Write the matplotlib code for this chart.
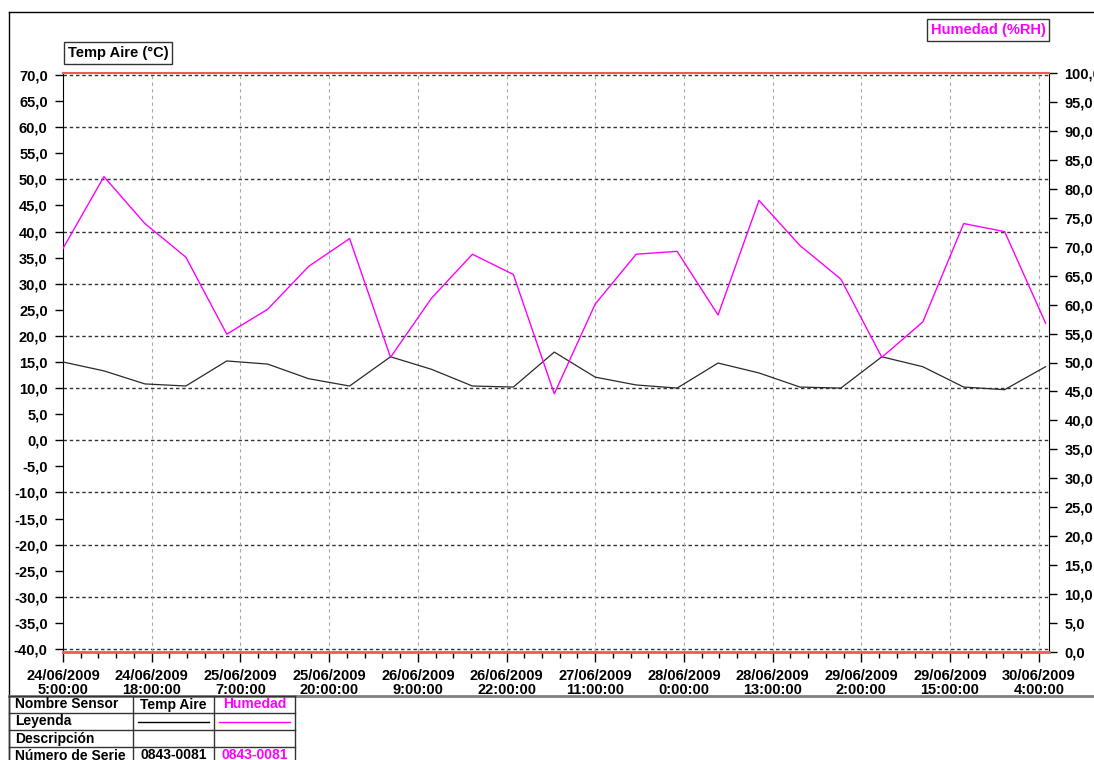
import numpy as np
import pandas as pd
import matplotlib
matplotlib.use("Agg")
import matplotlib.pyplot as plt
import matplotlib.dates as mdates
from matplotlib.ticker import MultipleLocator, FuncFormatter, FixedLocator
from matplotlib.lines import Line2D

# readings every 6 h, from 24/06/2009 5:00
temp_aire = [15.0, 13.3, 10.8, 10.4, 15.2, 14.6, 11.8, 10.4, 16.0, 13.6, 10.4, 10.2, 16.9,
             12.1, 10.6, 10.0, 14.8, 12.9, 10.2, 10.0, 16.0, 14.1, 10.2, 9.7, 14.1]
humedad = [69.7, 82.1, 74.0, 68.2, 54.9, 59.2, 66.6, 71.4, 50.9, 61.1, 68.7, 65.2, 44.6,
           60.1, 68.7, 69.2, 58.2, 78.0, 70.2, 64.4, 50.9, 57.0, 74.0, 72.6, 56.8]
times = pd.date_range("2009-06-24 05:00", periods=len(temp_aire), freq="6h")
tick_times = pd.date_range("2009-06-24 05:00", periods=12, freq="13h")
minor_times = pd.date_range("2009-06-24 05:00", periods=57, freq="156min")

table_rows = ["Nombre Sensor", "Leyenda", "Descripción", "Número de Serie"]
sensor_names = ["Temp Aire", "Humedad"]
serials = ["0843-0081", "0843-0081"]

MAGENTA = "#ff00ff"
W, H = 1094, 760
FS = 10.5

plt.rcParams["font.family"] = ["Liberation Sans", "DejaVu Sans"]
plt.rcParams["font.weight"] = "bold"
plt.rcParams["font.size"] = FS


def fx(x):
    return x / W


def fy(y):
    return 1 - y / H


fig = plt.figure(figsize=(W / 100, H / 100), dpi=100)
ax = fig.add_axes([fx(63), fy(652), fx(1049) - fx(63), fy(73) - fy(652)])
ax2 = ax.twinx()

# temperature axis
ax.set_ylim(-40.57, 70.38)
ax.yaxis.set_major_locator(MultipleLocator(5))
ax.yaxis.set_major_formatter(FuncFormatter(lambda v, p: f"{v:.1f}".replace(".", ",")))
for v in np.arange(-40, 71, 10):
    ax.axhline(v, color="#333333", lw=1, ls=(0, (2.5, 2)), zorder=1)

ax.plot(times, temp_aire, color="#2a2a2a", lw=0.9, zorder=3)

# time axis
ax.set_xlim(times[0], times[-1] + pd.Timedelta(minutes=30))
ax.xaxis.set_major_locator(FixedLocator(mdates.date2num(tick_times)))
ax.xaxis.set_minor_locator(FixedLocator(mdates.date2num(minor_times)))


def fmt_date(v, p):
    d = mdates.num2date(v)
    return f"{d:%d/%m/%Y}\n{d.hour}:{d:%M:%S}"


ax.xaxis.set_major_formatter(FuncFormatter(fmt_date))
ax.xaxis.grid(True, color="#a8a8a8", lw=0.8, ls=(0, (3, 3)))
for lab in ax.get_xticklabels():
    lab.set_linespacing(1.0)

ax.tick_params(axis="y", direction="out", length=6, width=1, pad=5, labelsize=FS)
ax.tick_params(axis="x", which="major", direction="out", length=7, width=1, pad=5, labelsize=FS)
ax.tick_params(axis="x", which="minor", direction="out", length=4, width=1)

# humidity axis
ax2.set_ylim(0, 100)
ax2.yaxis.set_major_locator(MultipleLocator(5))
ax2.yaxis.set_major_formatter(FuncFormatter(lambda v, p: f"{v:.1f}".replace(".", ",")))
ax2.tick_params(axis="y", direction="out", length=6, width=1, pad=5, labelsize=FS)
ax2.plot(times, humedad, color=MAGENTA, lw=1, zorder=3)
ax2.axhline(0, color="#ee5a5a", lw=2, clip_on=False, zorder=4)
ax2.axhline(100, color="#ee5a5a", lw=1.5, clip_on=False, zorder=4)

for a in (ax, ax2):
    a.spines["top"].set_visible(False)
    a.spines["bottom"].set_visible(False)
ax2.spines["left"].set_visible(False)
ax.spines["right"].set_visible(False)

# axis title boxes
fig.text(fx(68), fy(53), "Temp Aire (°C)", ha="left", va="center", fontsize=FS,
         bbox=dict(boxstyle="square,pad=0.25", fc="white", ec="#333333", lw=1))
fig.text(fx(988), fy(30), "Humedad (%RH)", ha="center", va="center", fontsize=FS, color=MAGENTA,
         bbox=dict(boxstyle="square,pad=0.25", fc="white", ec="#333333", lw=1))

# outer frame
fig.add_artist(Line2D([fx(9), 1], [fy(12), fy(12)], color="black", lw=1))
fig.add_artist(Line2D([fx(9), fx(9)], [fy(12), 0], color="black", lw=1))
fig.add_artist(Line2D([fx(9), 1], [fy(696), fy(696)], color="#808080", lw=2))

# sensor table
row_y = [696, 713, 730, 747, 764]
col_x = [9, 133, 214, 295]
for y in row_y:
    fig.add_artist(Line2D([fx(col_x[0]), fx(col_x[-1])], [fy(y), fy(y)], color="#333333", lw=1))
for x in col_x:
    fig.add_artist(Line2D([fx(x), fx(x)], [fy(row_y[0]), 0], color="#333333", lw=1))
for i, name in enumerate(table_rows):
    fig.text(fx(15), fy((row_y[i] + row_y[i + 1]) / 2), name, ha="left", va="center", fontsize=10)
colors = ["black", MAGENTA]
for j in range(2):
    cx = (col_x[j + 1] + col_x[j + 2]) / 2
    fig.text(fx(cx), fy(704.5), sensor_names[j], ha="center", va="center", fontsize=10, color=colors[j])
    fig.add_artist(Line2D([fx(col_x[j + 1] + 5), fx(col_x[j + 2] - 5)], [fy(722), fy(722)],
                          color=colors[j], lw=1))
    fig.text(fx(cx), fy(755), serials[j], ha="center", va="center", fontsize=10, color=colors[j])

fig.savefig("out.png", dpi=100)
